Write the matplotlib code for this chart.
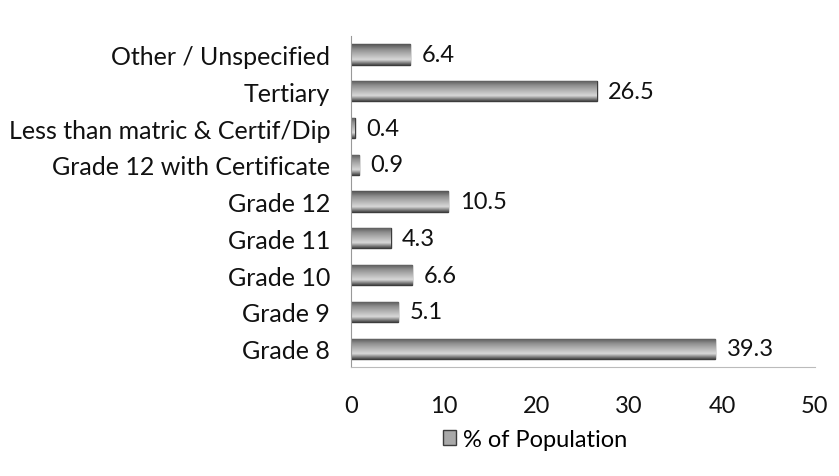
import numpy as np
import matplotlib.pyplot as plt
from matplotlib.colors import LinearSegmentedColormap

categories = ["Grade 8", "Grade 9", "Grade 10", "Grade 11", "Grade 12",
              "Grade 12 with Certificate", "Less than matric & Certif/Dip",
              "Tertiary", "Other / Unspecified"]
values = [39.3, 5.1, 6.6, 4.3, 10.5, 0.9, 0.4, 26.5, 6.4]
xticks = [0, 10, 20, 30, 40, 50]

plt.rcParams['font.family'] = ['Lato', 'DejaVu Sans']
fs = 17

fig = plt.figure(figsize=(8.39, 4.77), dpi=100)
ax = fig.add_axes([0.4184, 0.2285, 0.5526, 0.6935])

y = np.arange(len(categories))
bars = ax.barh(y, values, height=0.55, color='#a9a9a9', edgecolor='#3c3c3c',
               linewidth=1.0, label='% of Population', zorder=2)

# vertical gradient on each bar (glossy look)
grad = LinearSegmentedColormap.from_list(
    'g', ['#4a4a4a', '#d8d8d8', '#b5b5b5', '#8f8f8f', '#555555'])
col = np.linspace(0, 1, 64).reshape(-1, 1)
for b in bars:
    x0, y0 = b.get_x(), b.get_y()
    w, h = b.get_width(), b.get_height()
    im = ax.imshow(col, cmap=grad, aspect='auto', extent=(x0, x0 + w, y0, y0 + h),
                   origin='lower', zorder=2.5)
    im.set_clip_path(b)
for b, v in zip(bars, values):
    ax.text(b.get_width() + 1.2, b.get_y() + b.get_height() / 2, f"{v}",
            va='center', ha='left', fontsize=fs, color='#111111')

ax.set_xlim(0, 50)
ax.set_ylim(-0.5, len(categories) - 0.5)
ax.set_xticks(xticks)
ax.set_yticks(y)
ax.set_yticklabels(categories, fontsize=18)
ax.tick_params(axis='both', length=0, colors='#111111')
ax.tick_params(axis='x', pad=20, labelsize=fs)
ax.tick_params(axis='y', pad=15)
for s in ['top', 'right']:
    ax.spines[s].set_visible(False)
ax.spines['left'].set_color('#999999')
ax.spines['bottom'].set_color('#bbbbbb')
ax.spines['left'].set_linewidth(0.8)
ax.spines['bottom'].set_linewidth(0.8)

fig.legend(handles=[bars], labels=['% of Population'], loc='center',
           bbox_to_anchor=(0.638, 0.077), frameon=False, fontsize=fs,
           handlelength=0.55, handleheight=0.55, handletextpad=0.3)

fig.savefig('out.png', dpi=100)
